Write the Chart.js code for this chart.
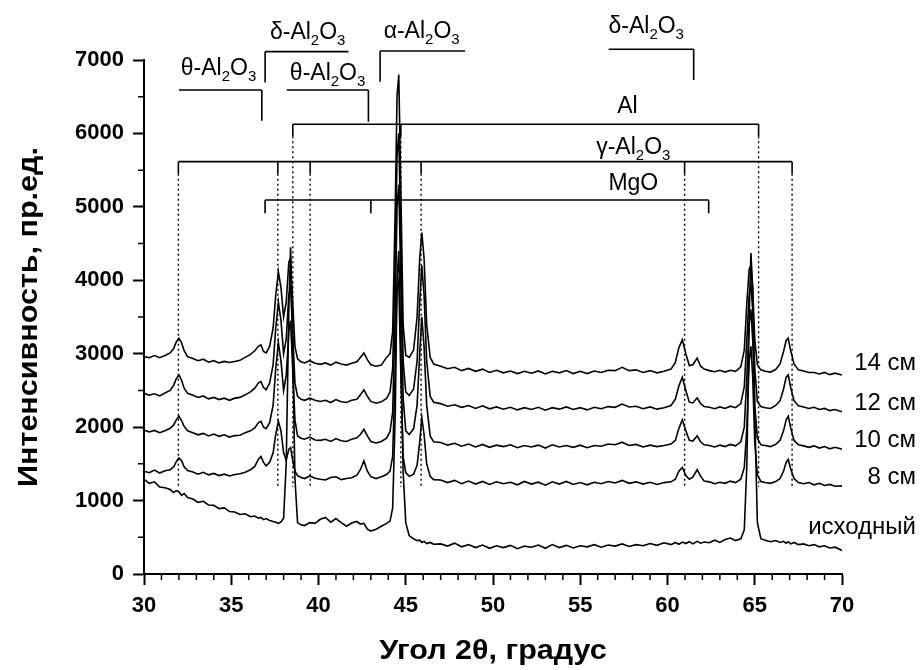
<!DOCTYPE html>
<html>
<head>
<meta charset="utf-8">
<script src="https://cdn.jsdelivr.net/npm/chart.js@4.4.1/dist/chart.umd.min.js"></script>
<style>
  body { margin: 0; background: #fff; }
  canvas { display: block; }
</style>
</head>
<body>
<canvas id="xrdChart" width="920" height="670"></canvas>
<script>
// 2theta grid (denser around the reflections)
const angles = [
  30.0, 30.3, 30.6, 30.9, 31.2, 31.5,
  31.7, 31.85, 32.0, 32.15, 32.3, 32.5,
  32.8, 33.1, 33.4, 33.7, 34.0, 34.3, 34.6, 34.9, 35.2, 35.5, 35.8, 36.1,
  36.35, 36.55, 36.7, 36.85, 37.0,
  37.2, 37.4, 37.55, 37.7, 37.85, 38.0, 38.15, 38.3, 38.4, 38.5, 38.65, 38.8, 39.0,
  39.2, 39.5, 39.8, 40.1, 40.4, 40.7, 41.0, 41.3, 41.6, 41.9, 42.2,
  42.4, 42.6, 42.8, 43.0,
  43.3, 43.6, 43.9, 44.1,
  44.25, 44.4, 44.5, 44.6, 44.7, 44.85, 45.0, 45.2,
  45.45, 45.65, 45.8, 45.92, 46.05, 46.2, 46.4, 46.6,
  47.0, 47.4, 47.8, 48.2, 48.6, 49.0, 49.4, 49.8, 50.2, 50.6, 51.0, 51.4, 51.8, 52.2, 52.6, 53.0, 53.4,
  53.8, 54.2, 54.6, 55.0, 55.4, 55.8, 56.2, 56.6, 57.0, 57.4, 57.8, 58.2, 58.6, 59.0, 59.4, 59.8, 60.2,
  60.45, 60.65, 60.85, 61.05, 61.25, 61.45, 61.7, 61.9, 62.1,
  62.4, 62.7, 63.0, 63.3, 63.6, 63.9, 64.2,
  64.4, 64.55, 64.68, 64.78, 64.88, 65.0, 65.15, 65.35,
  65.6, 65.9, 66.2, 66.45,
  66.65, 66.8, 66.92, 67.05, 67.25, 67.5,
  67.8, 68.1, 68.4, 68.7, 69.0, 69.3, 69.6, 70.0
];

const initial = [
  1290, 1235, 1255, 1185, 1175, 1150,
  1110, 1135, 1120, 1070, 1095, 1040,
  1020, 975, 990, 940, 935, 890, 900, 850, 845, 810, 820, 780,
  790, 760, 770, 740, 755,
  730, 715, 705, 690, 710, 760, 1500, 3600, 4450, 3400, 1300, 700, 670,
  660, 700, 690, 745, 770, 705, 755, 700, 650, 695, 715,
  680, 690, 610, 585,
  610, 650, 690, 720,
  900, 2200, 4000, 4400, 3300, 1400, 700, 520,
  480, 455, 460, 430, 445, 415, 430, 405,
  410, 380, 420, 370, 400, 360, 395, 350, 385, 360, 390, 345, 380, 365, 395, 350, 400,
  360, 390, 355, 385, 370, 400, 365, 395, 380, 410, 375, 400, 385, 415, 390, 425, 400,
  430, 405, 435, 415, 440, 410, 445, 420, 435,
  425, 460, 430, 470, 490, 455, 480,
  600, 1500, 3500, 4370, 3900, 2200, 700, 480,
  460, 440, 455, 430,
  445, 420, 440, 410, 430, 400,
  410, 385, 400, 370, 385, 355, 365, 320
];

const cm8 = [
  1400, 1380, 1415, 1375, 1405, 1420,
  1460, 1530, 1580, 1545, 1460, 1410,
  1390, 1360, 1385, 1350, 1370, 1340, 1360, 1335, 1355, 1365, 1385, 1420,
  1465, 1560, 1600, 1520, 1470,
  1520, 1650, 1900, 2080, 1950, 1650, 1550, 1700, 1720, 1580, 1400, 1340, 1315,
  1300, 1335, 1305, 1290, 1280, 1315, 1325, 1285, 1300, 1310, 1345,
  1420, 1540, 1400, 1325,
  1300, 1325, 1355, 1400,
  1600, 2800, 3900, 4000, 2900, 1600, 1380, 1330,
  1360, 1480, 1800, 2130, 1900, 1500, 1330, 1285,
  1280, 1245, 1275, 1230, 1265, 1225, 1260, 1220, 1255, 1230, 1250, 1215, 1260, 1225, 1250, 1210, 1255,
  1225, 1260, 1220, 1245, 1215, 1250, 1230, 1260, 1240, 1275, 1235, 1255, 1225, 1250, 1220, 1245, 1255,
  1290, 1400, 1450, 1340, 1290, 1320, 1420, 1330, 1265,
  1255, 1230, 1250, 1235, 1265, 1245, 1290,
  1450, 2000, 2900, 3100, 2700, 1800, 1350, 1260,
  1245, 1235, 1260, 1300,
  1400, 1520, 1560, 1440, 1300, 1245,
  1230, 1245, 1215, 1235, 1205, 1220, 1195, 1200
];

const cm10 = [
  1960, 1935, 1955, 1925, 1950, 1985,
  2030, 2100, 2150, 2090, 2010, 1950,
  1925, 1895, 1915, 1880, 1905, 1875, 1895, 1865, 1885, 1890, 1925, 1950,
  1990, 2060, 2080, 2000, 1980,
  2060, 2300, 2800, 3150, 2900, 2500, 2700, 3300, 3450, 2900, 2100, 1880, 1850,
  1835, 1865, 1825, 1820, 1835, 1805, 1845, 1815, 1805, 1835, 1855,
  1900, 1970, 1880, 1805,
  1785, 1805, 1850, 1940,
  2200, 3600, 5000, 5300, 4200, 2400, 1950, 1900,
  1980, 2300, 3000, 3500, 3100, 2300, 1880, 1800,
  1790, 1755, 1780, 1740, 1770, 1730, 1765, 1725, 1755, 1735, 1760, 1720, 1750, 1730, 1755, 1715, 1760,
  1730, 1750, 1725, 1755, 1720, 1750, 1740, 1770, 1760, 1795, 1750, 1765, 1730, 1755, 1735, 1750, 1770,
  1820, 1980, 2100, 1950, 1820, 1810, 1880, 1800, 1760,
  1750, 1730, 1755, 1735, 1765, 1745, 1800,
  2000, 2700, 3400, 3600, 3200, 2300, 1850, 1760,
  1750, 1735, 1765, 1820,
  1950, 2100, 2150, 2000, 1820, 1760,
  1745, 1725, 1745, 1715, 1735, 1705, 1725, 1700
];

const cm12 = [
  2460, 2435, 2455, 2425, 2465, 2500,
  2570, 2660, 2710, 2640, 2530, 2460,
  2435, 2405, 2425, 2385, 2405, 2375, 2395, 2365, 2395, 2405, 2440, 2480,
  2530, 2600, 2620, 2540, 2510,
  2600, 2850, 3350, 3700, 3450, 3000, 3200, 3800, 3900, 3400, 2600, 2420, 2380,
  2365, 2395, 2365, 2350, 2365, 2335, 2375, 2345, 2335, 2365, 2380,
  2440, 2510, 2420, 2350,
  2325, 2345, 2390, 2480,
  2800, 4300, 5700, 6000, 4800, 2900, 2480, 2430,
  2520, 2900, 3700, 4200, 3800, 2900, 2420, 2340,
  2320, 2285, 2305, 2270, 2295, 2255, 2290, 2250, 2275, 2245, 2270, 2235, 2265, 2240, 2270, 2230, 2265,
  2245, 2275, 2240, 2265, 2235, 2270, 2250, 2280, 2270, 2315, 2275, 2285, 2250, 2275, 2245, 2265, 2295,
  2380, 2560, 2680, 2500, 2340, 2330, 2400, 2320, 2280,
  2270, 2250, 2275, 2255, 2285, 2265, 2320,
  2550, 3200, 3800, 3950, 3600, 2800, 2350, 2280,
  2265, 2255, 2295, 2360,
  2520, 2680, 2710, 2550, 2360, 2290,
  2275, 2255, 2270, 2240, 2255, 2225, 2240, 2210
];

const cm14 = [
  2960, 2945, 2975, 2945, 2975, 3010,
  3070, 3160, 3210, 3150, 3040, 2960,
  2935, 2905, 2925, 2885, 2905, 2875, 2895, 2880, 2895, 2910, 2950, 2990,
  3040, 3100, 3120, 3030, 3010,
  3100, 3350, 3800, 4115, 3900, 3500, 3700, 4250, 4300, 3800, 3100, 2930, 2890,
  2875, 2905, 2870, 2855, 2875, 2845, 2885, 2860, 2845, 2870, 2890,
  2950, 3010, 2920, 2850,
  2830, 2845, 2950, 3000,
  3300, 5000, 6500, 6800, 5500, 3400, 2980, 2950,
  3050, 3500, 4300, 4650, 4300, 3400, 2950, 2860,
  2830, 2795, 2815, 2770, 2800, 2760, 2790, 2745, 2775, 2740, 2765, 2730, 2760, 2735, 2765, 2725, 2760,
  2740, 2770, 2730, 2760, 2730, 2765, 2745, 2775, 2770, 2815, 2770, 2780, 2745, 2770, 2740, 2760, 2790,
  2880, 3080, 3190, 3000, 2840, 2850, 2940, 2830, 2790,
  2770, 2755, 2775, 2750, 2775, 2760, 2820,
  3050, 3700, 4150, 4200, 3900, 3200, 2850, 2780,
  2760, 2750, 2785, 2860,
  3030, 3180, 3210, 3050, 2860, 2780,
  2765, 2745, 2745, 2725, 2745, 2715, 2735, 2710
];

const seriesNames = ['исходный', '8 см', '10 см', '12 см', '14 см'];
const seriesValues = [initial, cm8, cm10, cm12, cm14];

// reflection positions, 2theta
const alLines = [38.53, 44.72, 65.22];
const gammaLines = [31.97, 37.67, 39.52, 45.88, 60.98, 67.14];
const mgoLines = [36.94, 43.0, 62.36];

const xTitle = 'Угол 2θ, градус';
const yTitle = 'Интенсивность, пр.ед.';

// label parts: [text, isSubscript]
function alumina(prefix) {
  return [[prefix + '-Al', false], ['2', true], ['O', false], ['3', true]];
}

// bracket annotations in data units
const brackets = [
  { parts: alumina('θ'), lx: 34.27, ly: 6880, y: 6592, x1: 32.0, x2: 36.75, ticks: [[36.75, 6174]] },
  { parts: alumina('δ'), lx: 39.38, ly: 7370, y: 7114, x1: 36.94, x2: 41.72, ticks: [[36.94, 6692]] },
  { parts: alumina('θ'), lx: 40.52, ly: 6812, y: 6592, x1: 38.18, x2: 42.86, ticks: [[42.86, 6160]] },
  { parts: alumina('α'), lx: 45.91, ly: 7390, y: 7123, x1: 43.53, x2: 48.4, ticks: [[43.53, 6705]] },
  { parts: alumina('δ'), lx: 58.78, ly: 7450, y: 7146, x1: 56.63, x2: 61.5, ticks: [[61.5, 6728]] },
  { parts: [['Al', false]], lx: 57.7, ly: 6370, y: 6125, x1: alLines[0], x2: alLines[2], dotted: alLines },
  { parts: alumina('γ'), lx: 58.04, ly: 5800, y: 5616, x1: gammaLines[0], x2: gammaLines[5], dotted: gammaLines },
  { parts: [['MgO', false]], lx: 58.04, ly: 5320, y: 5094, x1: mgoLines[0], x2: mgoLines[2], ticks: mgoLines.map(v => [v, 4913]) }
];
const dottedEnd = 1185;
const seriesLabelLevels = [640, 1321, 1825, 2329, 2874];

const FONT = '"Liberation Sans", Arial, sans-serif';

function drawParts(ctx, parts, cx, cy) {
  const big = '23px ' + FONT, small = '15px ' + FONT;
  let total = 0;
  parts.forEach(p => { ctx.font = p[1] ? small : big; total += ctx.measureText(p[0]).width; });
  let x = cx - total / 2;
  ctx.textAlign = 'left';
  ctx.textBaseline = 'middle';
  parts.forEach(p => {
    ctx.font = p[1] ? small : big;
    ctx.fillText(p[0], x, p[1] ? cy + 8 : cy);
    x += ctx.measureText(p[0]).width;
  });
}

// bold title, a little wider than the font gives
function drawTitle(ctx, text, x, y, angle) {
  ctx.save();
  ctx.translate(x, y);
  ctx.rotate(angle);
  ctx.scale(1.13, 1);
  ctx.font = 'bold 27px ' + FONT;
  ctx.textAlign = 'center';
  ctx.textBaseline = 'middle';
  ctx.fillText(text, 0, 0);
  ctx.restore();
}

const annotationPlugin = {
  id: 'xrdAnnotations',
  afterDraw(chart) {
    const ctx = chart.ctx;
    const xs = chart.scales.x, ys = chart.scales.y;
    const area = chart.chartArea;
    ctx.save();
    ctx.strokeStyle = '#000';
    ctx.fillStyle = '#000';

    // minor ticks
    ctx.lineWidth = 1.5;
    ctx.beginPath();
    for (let v = 31; v < 70; v++) {
      if (v % 5 === 0) continue;
      const px = xs.getPixelForValue(v);
      ctx.moveTo(px, area.bottom); ctx.lineTo(px, area.bottom + 6);
    }
    for (let v = 500; v < 7000; v += 1000) {
      const py = ys.getPixelForValue(v);
      ctx.moveTo(area.left - 6, py); ctx.lineTo(area.left, py);
    }
    ctx.stroke();

    // phase brackets
    brackets.forEach(b => {
      const yy = ys.getPixelForValue(b.y);
      ctx.lineWidth = 1.6;
      ctx.setLineDash([]);
      ctx.beginPath();
      ctx.moveTo(xs.getPixelForValue(b.x1), yy);
      ctx.lineTo(xs.getPixelForValue(b.x2), yy);
      (b.ticks || []).forEach(t => {
        const px = xs.getPixelForValue(t[0]);
        ctx.moveTo(px, yy); ctx.lineTo(px, ys.getPixelForValue(t[1]));
      });
      (b.dotted || []).forEach(v => {
        const px = xs.getPixelForValue(v);
        ctx.moveTo(px, yy); ctx.lineTo(px, yy + 12);
      });
      ctx.stroke();
      if (b.dotted) {
        ctx.lineWidth = 1.4;
        ctx.setLineDash([2, 3]);
        ctx.beginPath();
        b.dotted.forEach(v => {
          const px = xs.getPixelForValue(v);
          ctx.moveTo(px, yy + 12); ctx.lineTo(px, ys.getPixelForValue(dottedEnd));
        });
        ctx.stroke();
        ctx.setLineDash([]);
      }
      drawParts(ctx, b.parts, xs.getPixelForValue(b.lx), ys.getPixelForValue(b.ly));
    });

    // series labels
    ctx.font = '24px ' + FONT;
    ctx.textAlign = 'right';
    ctx.textBaseline = 'middle';
    seriesNames.forEach((name, i) => {
      ctx.fillText(name, area.right + 74, ys.getPixelForValue(seriesLabelLevels[i]));
    });

    // axis titles
    drawTitle(ctx, xTitle, (area.left + area.right) / 2, 652, 0);
    drawTitle(ctx, yTitle, 30, (area.top + area.bottom) / 2, -Math.PI / 2);
    ctx.restore();
  }
};

const tickFont = { family: FONT, size: 22, weight: 'bold' };

new Chart(document.getElementById('xrdChart'), {
  type: 'line',
  data: {
    datasets: seriesValues.map((vals, i) => ({
      label: seriesNames[i],
      data: angles.map((a, j) => ({ x: a, y: vals[j] })),
      borderColor: '#000',
      borderWidth: 1.6,
      pointRadius: 0,
      tension: 0,
      fill: false
    }))
  },
  options: {
    responsive: false,
    animation: false,
    layout: { padding: { top: 60, right: 78, left: 0, bottom: 0 } },
    plugins: { legend: { display: false }, tooltip: { enabled: false } },
    scales: {
      x: {
        type: 'linear',
        min: 30,
        max: 70,
        ticks: {
          stepSize: 1,
          autoSkip: false,
          maxRotation: 0,
          padding: 8,
          color: '#000',
          font: tickFont,
          callback: v => (v % 5 === 0 ? v : '')
        },
        grid: {
          drawOnChartArea: false,
          tickLength: 11,
          tickWidth: 2,
          tickColor: c => (c.tick && c.tick.value % 5 === 0 ? '#000' : 'rgba(0,0,0,0)')
        },
        border: { color: '#000', width: 2 },
        afterFit: s => { s.height = 96; }
      },
      y: {
        min: 0,
        max: 7000,
        ticks: {
          stepSize: 500,
          autoSkip: false,
          padding: 9,
          color: '#000',
          font: tickFont,
          callback: v => (v % 1000 === 0 ? v : '')
        },
        grid: {
          drawOnChartArea: false,
          tickLength: 11,
          tickWidth: 2,
          tickColor: c => (c.tick && c.tick.value % 1000 === 0 ? '#000' : 'rgba(0,0,0,0)')
        },
        border: { color: '#000', width: 2 },
        afterFit: s => { s.width = 144; }
      }
    }
  },
  plugins: [annotationPlugin]
});
</script>
</body>
</html>
